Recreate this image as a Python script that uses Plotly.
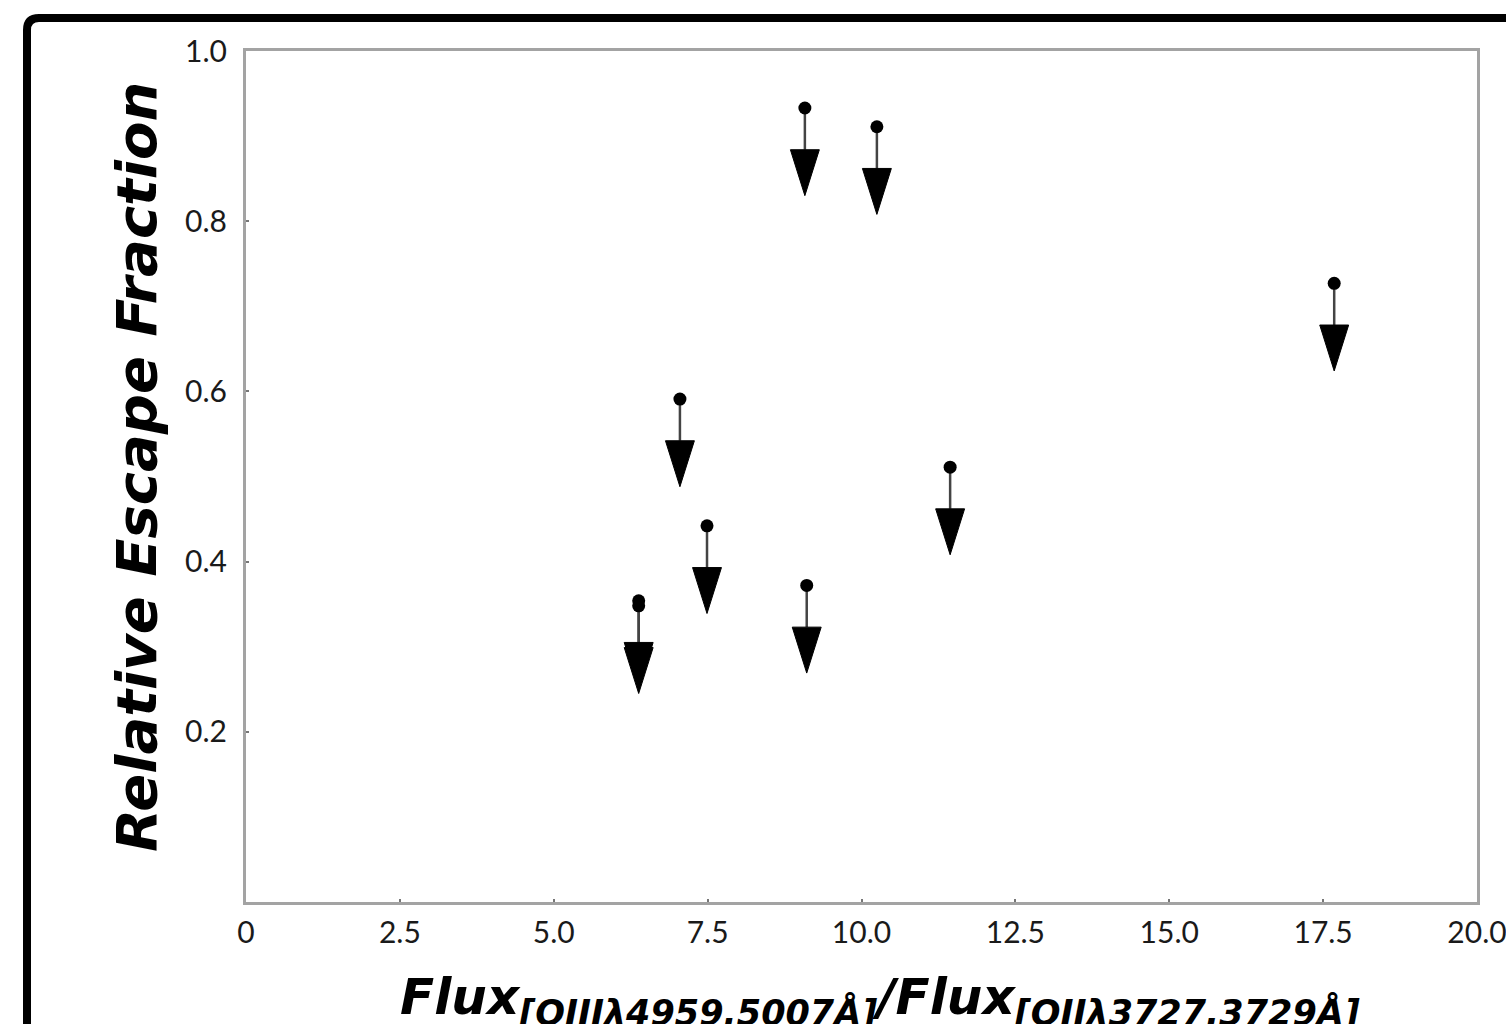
import plotly.graph_objects as go

# ---- data (upper limits on relative escape fraction) ----
flux_ratio = [6.38, 6.38, 7.05, 7.49, 9.11, 9.08, 10.25, 11.44, 17.68]
esc_frac = [0.354, 0.348, 0.591, 0.442, 0.372, 0.933, 0.911, 0.511, 0.727]

x_tickvals = [0, 2.5, 5.0, 7.5, 10.0, 12.5, 15.0, 17.5, 20.0]
x_ticktext = ["0", "2.5", "5.0", "7.5", "10.0", "12.5", "15.0", "17.5", "20.0"]
y_tickvals = [0.2, 0.4, 0.6, 0.8, 1.0]
y_ticktext = ["0.2", "0.4", "0.6", "0.8", "1.0"]

# arrow geometry (data units)
STEM = 0.049
HEAD = 0.054
HALF_W = 0.235

W, H = 1506, 1024
L, R, T, B = 246, 29, 51, 122

stem_x, stem_y, head_x, head_y = [], [], [], []
for x, y in zip(flux_ratio, esc_frac):
    stem_x += [x, x, None]
    stem_y += [y, y - STEM, None]
    top = y - STEM
    head_x += [x - HALF_W, x + HALF_W, x, x - HALF_W, None]
    head_y += [top, top, top - HEAD, top, None]

fig = go.Figure()
fig.add_trace(go.Scatter(x=stem_x, y=stem_y, mode="lines",
                         line=dict(color="#444444", width=2.5),
                         hoverinfo="skip", showlegend=False))
fig.add_trace(go.Scatter(x=head_x, y=head_y, mode="lines", fill="toself",
                         fillcolor="black", line=dict(color="black", width=1),
                         hoverinfo="skip", showlegend=False))
fig.add_trace(go.Scatter(x=flux_ratio, y=esc_frac, mode="markers",
                         marker=dict(color="black", size=13, symbol="circle"),
                         showlegend=False))

axis_common = dict(showgrid=False, zeroline=False, showline=True, mirror=True,
                   linecolor="#a3a3a3", linewidth=3, ticks="inside", ticklen=3,
                   tickcolor="#777777", tickwidth=2, automargin=False,
                   ticklabeloverflow="allow",
                   tickfont=dict(family="Lato", size=30, color="#1a1a1a"))

fig.update_xaxes(range=[0, 20], tickvals=x_tickvals, ticktext=x_ticktext,
                 ticklabelstandoff=2, **axis_common)
fig.update_yaxes(range=[0, 1.0], tickvals=y_tickvals, ticktext=y_ticktext,
                 ticklabelstandoff=10, **axis_common)

# outer black rounded frame (paper coordinates)
pw, ph = W - L - R, H - T - B
def px(xp):
    return (xp - L) / pw
def py(yp):
    return (H - B - yp) / ph
x0, x1 = px(27), px(1530)
y_top, y_bot = py(18), py(1050)
dx, dy = 12 / pw, 12 / ph
path = (f"M {x0} {y_bot} L {x0} {y_top - dy} Q {x0} {y_top} {x0 + dx} {y_top} "
        f"L {x1} {y_top}")
fig.add_shape(type="path", xref="paper", yref="paper", path=path,
              line=dict(color="black", width=8))

fig.add_annotation(xref="paper", yref="paper", x=px(136), y=py(467),
                   text="<b><i>Relative Escape Fraction</i></b>", textangle=-90,
                   showarrow=False, xanchor="center", yanchor="middle",
                   font=dict(family="DejaVu Sans", size=56, color="black"))
fig.add_annotation(xref="paper", yref="paper", x=px(880), y=py(966),
                   text=("<b><i>Flux<sub>[OIIIλ4959,5007Å]</sub>/"
                         "Flux<sub>[OIIλ3727,3729Å]</sub></i></b>"),
                   showarrow=False, xanchor="center", yanchor="top",
                   font=dict(family="DejaVu Sans", size=50, color="black"))

fig.update_layout(width=W, height=H, margin=dict(l=L, r=R, t=T, b=B),
                  paper_bgcolor="white", plot_bgcolor="white",
                  showlegend=False)

fig.write_html("out.html")
